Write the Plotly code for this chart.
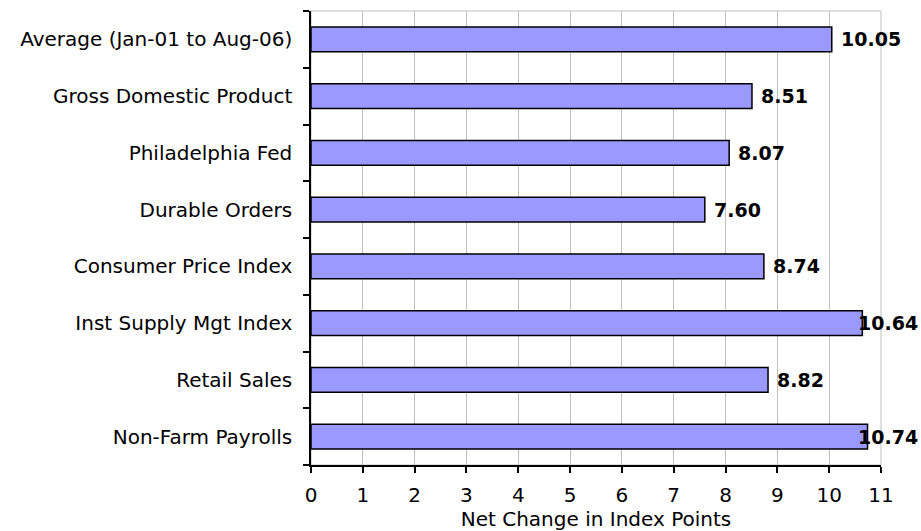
import plotly.graph_objects as go

categories = ["Non-Farm Payrolls", "Retail Sales", "Inst Supply Mgt Index", "Consumer Price Index",
              "Durable Orders", "Philadelphia Fed", "Gross Domestic Product", "Average (Jan-01 to Aug-06)"]
values = [10.74, 8.82, 10.64, 8.74, 7.60, 8.07, 8.51, 10.05]
x_ticks = list(range(0, 12))

FONT = "DejaVu Sans, Verdana, sans-serif"
FS = 20
FS_LBL = 19

fig = go.Figure()
fig.add_trace(go.Bar(
    y=categories, x=values, orientation="h",
    marker=dict(color="#9999FF", line=dict(color="#000000", width=1.5)),
    hoverinfo="x+y",
))

annotations = []
for c, v in zip(categories, values):
    txt = f"{v:.2f}"
    if v > 10.2:
        annotations.append(dict(x=11, y=c, xref="x", yref="y", text=f"<b>{txt}</b>",
                                showarrow=False, xanchor="right", xshift=39,
                                font=dict(family=FONT, size=FS_LBL, color="#000")))
    else:
        annotations.append(dict(x=v, y=c, xref="x", yref="y", text=f"<b>{txt}</b>",
                                showarrow=False, xanchor="left", xshift=7,
                                font=dict(family=FONT, size=FS_LBL, color="#000")))

fig.update_layout(
    width=921, height=531,
    margin=dict(l=311, r=40, t=11, b=66, autoexpand=False),
    paper_bgcolor="white", plot_bgcolor="white",
    showlegend=False, bargap=0.56,
    font=dict(family=FONT, size=FS, color="#000"),
    annotations=annotations,
    shapes=[dict(type="rect", xref="paper", yref="paper", x0=0, x1=1, y0=0, y1=1,
                 line=dict(color="#BFBFBF", width=1), layer="below")],
    xaxis=dict(range=[0, 11], tickvals=x_ticks, ticktext=[str(t) for t in x_ticks],
               automargin=False,
               showgrid=True, gridcolor="#BFBFBF", gridwidth=1,
               showline=True, linecolor="#000", linewidth=1.5,
               ticks="outside", ticklen=6, tickcolor="#000", tickwidth=1.5,
               zeroline=False, ticklabelstandoff=5,
               title=dict(text="Net Change in Index Points", standoff=2,
                          font=dict(family=FONT, size=FS, color="#000")),
               tickfont=dict(family=FONT, size=FS, color="#000")),
    yaxis=dict(categoryorder="array", categoryarray=categories,
               automargin=False,
               showline=True, linecolor="#000", linewidth=1.5,
               ticks="outside", ticklen=6, tickcolor="#000", tickwidth=1.5,
               tickson="boundaries", showgrid=False,
               ticklabelstandoff=13,
               tickfont=dict(family=FONT, size=FS, color="#000")),
)

fig.write_html(
    "out.html",
    config={"displayModeBar": False},
    post_script="document.body.style.margin='0';document.body.style.overflow='hidden';",
)
